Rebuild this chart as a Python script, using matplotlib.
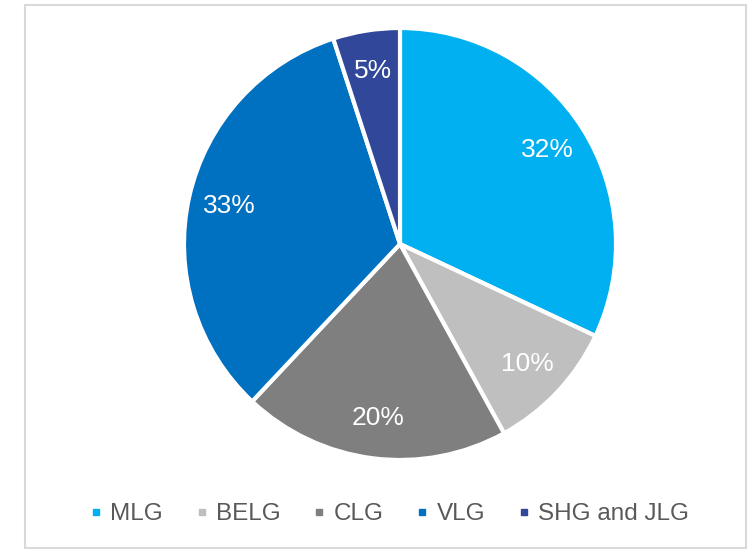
import matplotlib.pyplot as plt
from matplotlib.lines import Line2D
from matplotlib.patches import Rectangle

plt.rcParams['font.family'] = ['Liberation Sans', 'DejaVu Sans']

categories = ['MLG', 'BELG', 'CLG', 'VLG', 'SHG and JLG']
shares = [32, 10, 20, 33, 5]
colors = ['#00B0F0', '#BFBFBF', '#7F7F7F', '#0070C0', '#31479A']

fig = plt.figure(figsize=(7.54, 5.49), dpi=100)

# outer frame of the chart area
fig.patches.append(Rectangle((25 / 754, 1 / 549), 721 / 754, 543 / 549,
                             transform=fig.transFigure, fill=False,
                             edgecolor='#D9D9D9', linewidth=1.5))

ax = fig.add_axes([(400 - 216) / 754, (549 - 244 - 216) / 549, 432 / 754, 432 / 549])
wedges, texts = ax.pie(shares, colors=colors, startangle=90, counterclock=False,
                       labels=[f'{v}%' for v in shares], labeldistance=0.81,
                       wedgeprops=dict(edgecolor='white', linewidth=3))
for t in texts:
    t.set_color('white')
    t.set_fontsize(19)
    t.set_ha('center')
    t.set_va('center')
ax.set_xlim(-1, 1)
ax.set_ylim(-1, 1)
ax.set_aspect('equal')

handles = [Line2D([], [], marker='s', linestyle='none', markersize=5,
                  markerfacecolor=c, markeredgecolor=c) for c in colors]
fig.legend(handles, categories, loc='center', bbox_to_anchor=(389 / 754, 1 - 514 / 549),
           ncol=5, frameon=False, fontsize=17.5, labelcolor='#595959',
           handlelength=0.6, handletextpad=0.3, columnspacing=1.28)

fig.savefig('out.png', dpi=100)
